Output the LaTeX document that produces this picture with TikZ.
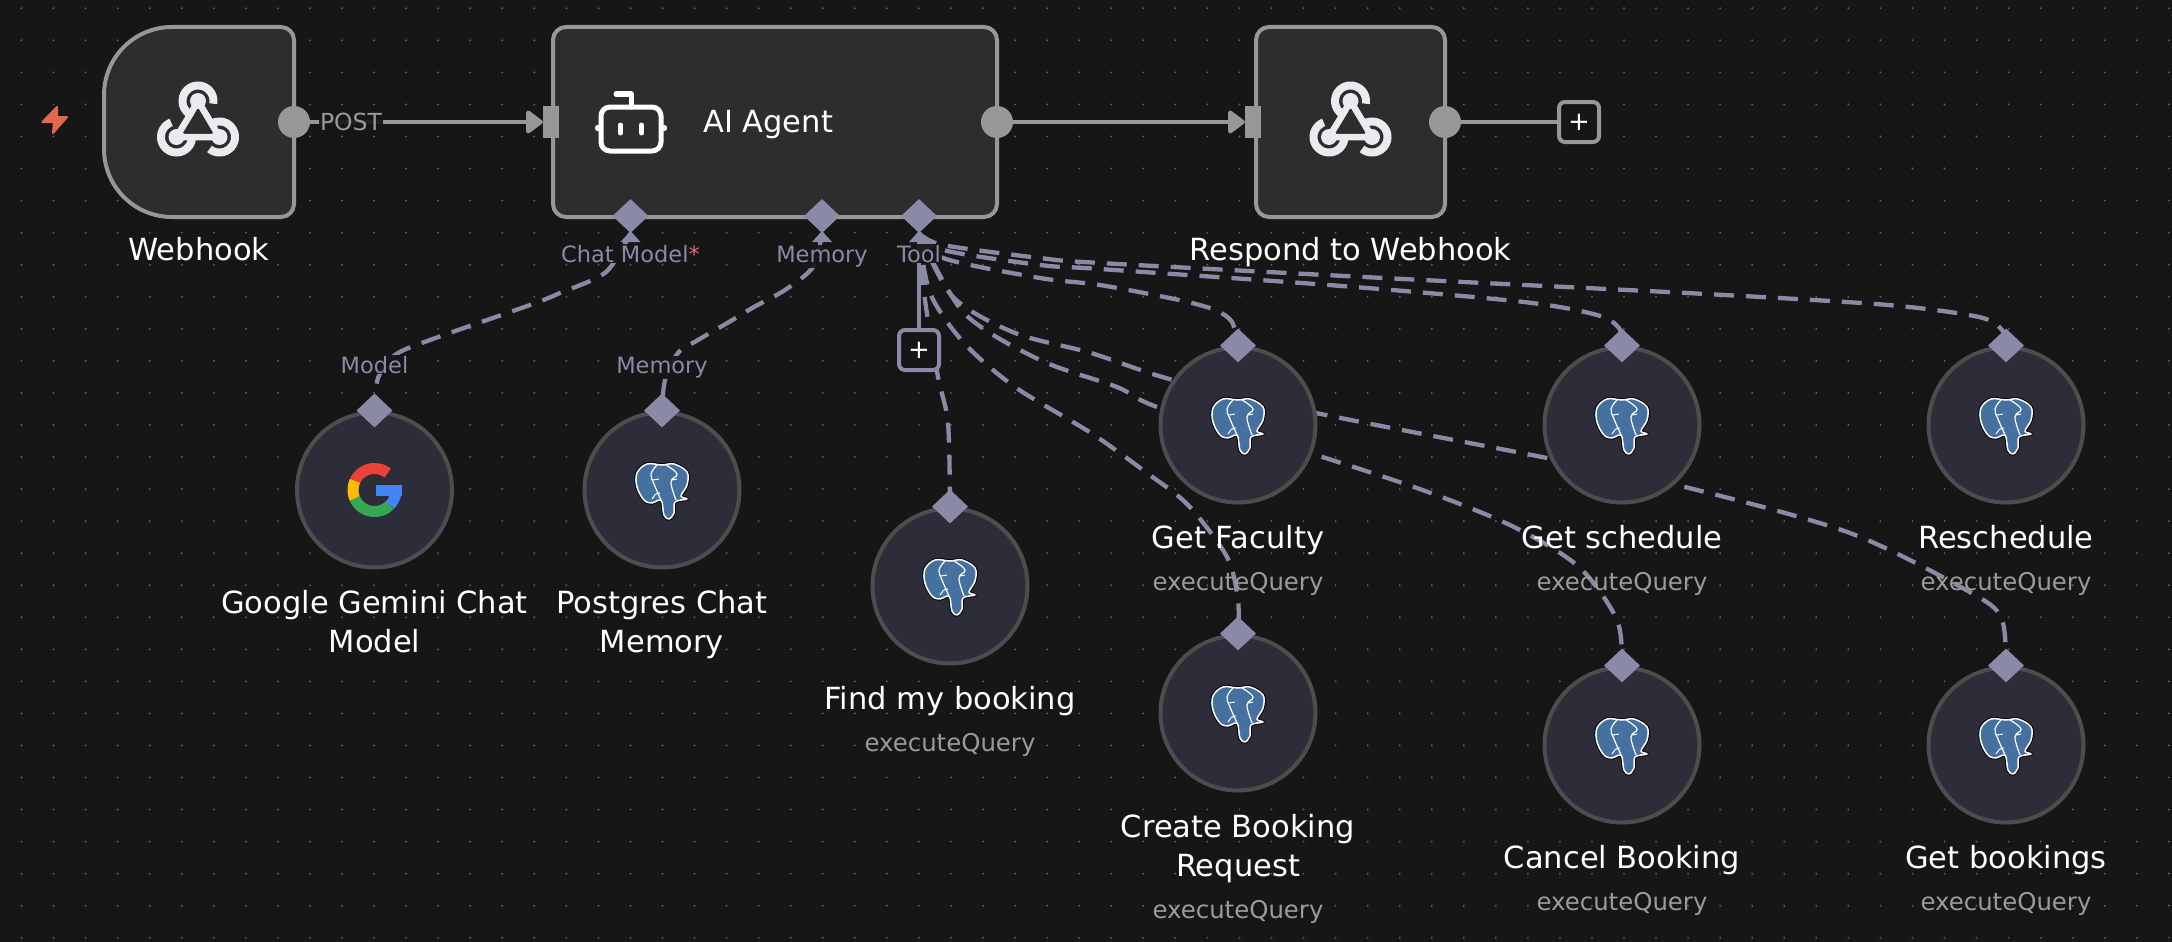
\documentclass[tikz,border=0pt]{standalone}
\usepackage{fontspec}
\setmainfont{DejaVu Sans}
\usetikzlibrary{arrows.meta,backgrounds,shapes.geometric}

\definecolor{bgcol}{HTML}{161616}
\definecolor{griddot}{HTML}{5A5A5A}
\definecolor{boxfill}{HTML}{2D2D2D}
\definecolor{boxline}{HTML}{979797}
\definecolor{toolfill}{HTML}{2D2D3A}
\definecolor{toolline}{HTML}{4D4D4D}
\definecolor{portcol}{HTML}{8A8AA6}
\definecolor{subcol}{HTML}{9A9A9A}
\definecolor{iconcol}{HTML}{E9EBEF}
\definecolor{pgblue}{HTML}{44719F}

\tikzset{
    mainbox/.style={draw=boxline, fill=boxfill, line width=4pt, rounded corners=13pt, inner sep=0},
    toolnode/.style={circle, draw=toolline, fill=toolfill, line width=4pt, minimum size=155pt, inner sep=0},
    outport/.style={circle, fill=boxline, minimum size=32pt, inner sep=0},
    inport/.style={rectangle, fill=boxline, minimum width=16pt, minimum height=32pt, inner sep=0},
    subport/.style={diamond, fill=portcol, minimum width=36pt, minimum height=34pt, inner sep=0},
    addbox/.style={draw=#1, fill=bgcol, line width=4pt, rounded corners=6pt, minimum size=40pt, inner sep=0, text=white, font=\fontsize{26}{26}\selectfont},
    namelabel/.style={anchor=base, text=white, align=center, inner sep=0, font=\fontsize{30.5}{39}\selectfont},
    sublabel/.style={anchor=base, text=subcol, inner sep=0, font=\fontsize{24.4}{28}\selectfont},
    portlabel/.style={anchor=base, text=portcol, fill=bgcol, fill opacity=.92, text opacity=1, inner sep=1pt, font=\fontsize{22.5}{26}\selectfont},
    mainedge/.style={draw=boxline, line width=4pt},
    subedge/.style={draw=portcol, line width=4.3pt, dash pattern=on 20pt off 12pt},
    pgicon/.pic={
        \draw[black, line width=3.4pt, line join=round] plot[smooth cycle, tension=.6] coordinates {(-15,-26) (-25,-17) (-25,-3) (-18,10) (-10,13) (-3,10) (0,12) (2,25) (7,29) (12,23) (13,12) (25,9) (19,6) (25,-5) (25,-18) (12,-26) (0,-25)};
        \draw[white, fill=pgblue, line width=1.5pt, line join=round] plot[smooth cycle, tension=.6] coordinates {(-15,-26) (-25,-17) (-25,-3) (-18,10) (-10,13) (-3,10) (0,12) (2,25) (7,29) (12,23) (13,12) (25,9) (19,6) (25,-5) (25,-18) (12,-26) (0,-25)};
        \draw[white, line width=1.2pt] plot[smooth, tension=.7] coordinates {(-5,-25) (-11,-16) (-8,-6) (-1,10)};
        \draw[white, line width=1.2pt] plot[smooth, tension=.7] coordinates {(4,-25) (15,-16) (9,-8) (14,10)};
        \draw[white, line width=1pt] (-9,-10) -- (-3,-11) (10,-10) -- (15,-11);
        \draw[white, line width=1pt] plot[smooth, tension=.7] coordinates {(-10,9) (-6,4) (-2,3)};
    },
    hookicon/.pic={
        \draw[iconcol, line width=8pt, domain=-240:10, samples=40] plot ({15.5*cos(\x)},{-21+15.5*sin(\x)});
        \draw[iconcol, line width=8pt, domain=-120:130, samples=40] plot ({21.5+15.5*cos(\x)},{15+15.5*sin(\x)});
        \draw[iconcol, line width=8pt, domain=0:250, samples=40] plot ({-21.5+15.5*cos(\x)},{15+15.5*sin(\x)});
        \draw[iconcol, line width=6.5pt] (-7.7,-7.6) -- (-21.5,15) -- (21.5,15) -- (0,-21) -- (-7.7,-7.6);
        \fill[iconcol] (0,-21) circle (8) (-21.5,15) circle (8) (21.5,15) circle (8);
    },
    boticon/.pic={
        \draw[white, line width=5pt, rounded corners=9pt] (-30,-15) rectangle (30,29);
        \draw[white, line width=5pt, line cap=round, line join=round] (0,-15) -- (0,-28) -- (-15,-28);
        \draw[white, line width=5pt, line cap=round] (-10.5,3) -- (-10.5,11) (10.5,3) -- (10.5,11);
        \fill[white] (-33,6) circle (3.2) (33,6) circle (3.2);
    },
    gicon/.pic={
        \draw[line width=11pt, color={rgb,255:red,234;green,67;blue,53}, domain=205:308, samples=20] plot ({21.5*cos(\x)},{21.5*sin(\x)});
        \draw[line width=11pt, color={rgb,255:red,251;green,188;blue,5}, domain=155:205, samples=12] plot ({21.5*cos(\x)},{21.5*sin(\x)});
        \draw[line width=11pt, color={rgb,255:red,52;green,168;blue,83}, domain=44:157, samples=20] plot ({21.5*cos(\x)},{21.5*sin(\x)});
        \draw[line width=11pt, color={rgb,255:red,66;green,133;blue,244}, domain=0:44, samples=12] plot ({21.5*cos(\x)},{21.5*sin(\x)});
        \fill[color={rgb,255:red,66;green,133;blue,244}] (1,-5) rectangle (27,6);
    },
}

\begin{document}
\begin{tikzpicture}[x=1pt,y=-1pt]
    \useasboundingbox (0,0) rectangle (2172,942);

    \draw[boxline, fill=boxfill, line width=4pt, line join=round] (172,27) -- (281,27) .. controls (288.2,27) and (294,32.8) .. (294,40) -- (294,204) .. controls (294,211.2) and (288.2,217) .. (281,217) -- (172,217) .. controls (134.4,217) and (104,186.6) .. (104,149) -- (104,95) .. controls (104,57.4) and (134.4,27) .. (172,27) -- cycle;
    \node[mainbox, minimum width=444pt, minimum height=190pt] (agent) at (775,122) {};
    \node[mainbox, minimum width=189pt, minimum height=190pt] (respond) at (1350.5,122) {};

    \node[outport] (webhookout) at (294,122) {};
    \node[inport] (agentin) at (551,122) {};
    \node[outport] (agentout) at (997,122) {};
    \node[inport] (respondin) at (1253,122) {};
    \node[outport] (respondout) at (1445,122) {};
    \node[addbox=boxline] (respondadd) at (1579,122) {+};

    \fill[portcol] (630.5,231) -- (640.5,242) -- (620.5,242) -- cycle;
    \fill[portcol] (822,231) -- (832,242) -- (812,242) -- cycle;
    \fill[portcol] (919,231) -- (929,242) -- (909,242) -- cycle;
    \node[subport] (modelport) at (630.5,216) {};
    \node[subport] (memoryport) at (822,216) {};
    \node[subport] (toolport) at (919,216) {};

    \node[portlabel] (modeltext) at (630.5,262) {Chat Model{\color[HTML]{E0697A}*}};
    \node[portlabel] (memorytext) at (822,262) {Memory};
    \node[portlabel] (tooltext) at (919,262) {Tool};
    \node[addbox=portcol] (tooladd) at (919,350) {+};

    \node[toolnode] (gemini) at (374.5,490) {};
    \node[toolnode] (pgmemory) at (662,490) {};
    \node[toolnode] (findbooking) at (950,586) {};
    \node[toolnode] (faculty) at (1238,425) {};
    \node[toolnode] (createbooking) at (1238,713) {};
    \node[toolnode] (schedule) at (1622,425) {};
    \node[toolnode] (cancelbooking) at (1622,745) {};
    \node[toolnode] (reschedule) at (2006,425) {};
    \node[toolnode] (getbookings) at (2006,745) {};

    \node[subport] (geminiport) at (gemini.north) {};
    \node[subport] (pgmemoryport) at (pgmemory.north) {};
    \node[subport] (findport) at (findbooking.north) {};
    \node[subport] (facultyport) at (faculty.north) {};
    \node[subport] (createport) at (createbooking.north) {};
    \node[subport] (scheduleport) at (schedule.north) {};
    \node[subport] (cancelport) at (cancelbooking.north) {};
    \node[subport] (rescheduleport) at (reschedule.north) {};
    \node[subport] (bookingsport) at (getbookings.north) {};

    \node[portlabel] (modelin) at (374.5,373) {Model};
    \node[portlabel] (memoryin) at (662,373) {Memory};
    \node[portlabel, text=subcol] (posttext) at (351,130) {\fontsize{23.5}{26}\selectfont POST};

    \pic at (198,122) {hookicon};
    \pic at (1350.5,122) {hookicon};
    \pic at (631,122) {boticon};
    \pic at (gemini) {gicon};
    \pic at (pgmemory) {pgicon};
    \pic at (findbooking) {pgicon};
    \pic at (faculty) {pgicon};
    \pic at (createbooking) {pgicon};
    \pic at (schedule) {pgicon};
    \pic at (cancelbooking) {pgicon};
    \pic at (reschedule) {pgicon};
    \pic at (getbookings) {pgicon};

    \fill[color={rgb,255:red,226;green,104;blue,82}, draw={rgb,255:red,226;green,104;blue,82}, line width=2pt, line join=round] (57,107) -- (42.5,122) -- (54,122) -- (53,133) -- (67,117) -- (57,117) -- cycle;

    \node[anchor=base west, text=white, inner sep=0, font=\fontsize{30.5}{36}\selectfont] (agenttext) at (703,132) {AI Agent};
    \node[namelabel] (webhooktext) at (199,260) {Webhook};
    \node[namelabel] (respondtext) at (1350.5,260) {Respond to Webhook};
    \node[namelabel] (geminitext) at (374.5,652) {Google Gemini Chat\\Model};
    \node[namelabel] (pgmemorytext) at (662,652) {Postgres Chat\\Memory};
    \node[namelabel] (findtext) at (950,709) {Find my booking};
    \node[sublabel] (findsub) at (950,751) {executeQuery};
    \node[namelabel] (facultytext) at (1238,548) {Get Faculty};
    \node[sublabel] (facultysub) at (1238,590) {executeQuery};
    \node[namelabel] (createtext) at (1238,876) {Create Booking\\Request};
    \node[sublabel] (createsub) at (1238,918) {executeQuery};
    \node[namelabel] (scheduletext) at (1622,548) {Get schedule};
    \node[sublabel] (schedulesub) at (1622,590) {executeQuery};
    \node[namelabel] (canceltext) at (1622,868) {Cancel Booking};
    \node[sublabel] (cancelsub) at (1622,910) {executeQuery};
    \node[namelabel] (rescheduletext) at (2006,548) {Reschedule};
    \node[sublabel] (reschedulesub) at (2006,590) {executeQuery};
    \node[namelabel] (bookingstext) at (2006,868) {Get bookings};
    \node[sublabel] (bookingssub) at (2006,910) {executeQuery};

    \begin{pgfonlayer}{background}
        \fill[bgcol] (0,0) rectangle (2172,942);
        \foreach \i in {0,...,67} {
            \foreach \j in {0,...,29} {
                \fill[griddot] ({21.5+32.05*\i},{8.3+32.05*\j}) circle (1.1);
            }
        }

        \draw[mainedge, -{Triangle[length=18pt,width=26pt,round]}] (webhookout) -- (agentin.west);
        \draw[mainedge, -{Triangle[length=18pt,width=26pt,round]}] (agentout) -- (respondin.west);
        \draw[mainedge] (respondout) -- (respondadd);
        \draw[mainedge, draw=portcol] (toolport.south) -- (tooladd);

        \draw[subedge] plot[smooth, tension=.5] coordinates {(modelport.south) (606,272) (560,293) (530,305) (430,340) (395,355) (378,378) (geminiport)};
        \draw[subedge] plot[smooth, tension=.5] coordinates {(memoryport.south) (813,267) (785,290) (754,307) (729,322) (698,340) (678,353) (665,380) (pgmemoryport)};
        \draw[subedge] plot[smooth, tension=.5] coordinates {(toolport.south) (925,300) (938,377) (948,423) (findport)};
        \draw[subedge] plot[smooth, tension=.5] coordinates {(toolport.south) (943,258) (1040,278) (1100,285) (1179,300) (1215,310) (1232,322) (facultyport)};
        \draw[subedge] plot[smooth, tension=.5] coordinates {(toolport.south) (943,250) (1040,265) (1100,269) (1342,286) (1524,302) (1597,315) (1619,328) (scheduleport)};
        \draw[subedge] plot[smooth, tension=.5] coordinates {(toolport.south) (943,245) (1040,258) (1100,263) (1403,279) (1706,294) (1888,305) (1979,317) (2002,330) (rescheduleport)};
        \draw[subedge] plot[smooth, tension=.5] coordinates {(toolport.south) (930,293) (964,343) (1015,387) (1091,433) (1147,473) (1188,505) (1227,557) (1238,600) (createport)};
        \draw[subedge] plot[smooth, tension=.5] coordinates {(toolport.south) (964,313) (1040,360) (1117,387) (1160,408) (1316,455) (1428,492) (1514,527) (1579,567) (1617,620) (cancelport)};
        \draw[subedge] plot[smooth, tension=.5] coordinates {(toolport.south) (953,297) (1015,333) (1091,353) (1173,380) (1316,413) (1547,458) (1677,485) (1850,533) (1975,595) (2002,620) (bookingsport)};
    \end{pgfonlayer}
\end{tikzpicture}
\end{document}
